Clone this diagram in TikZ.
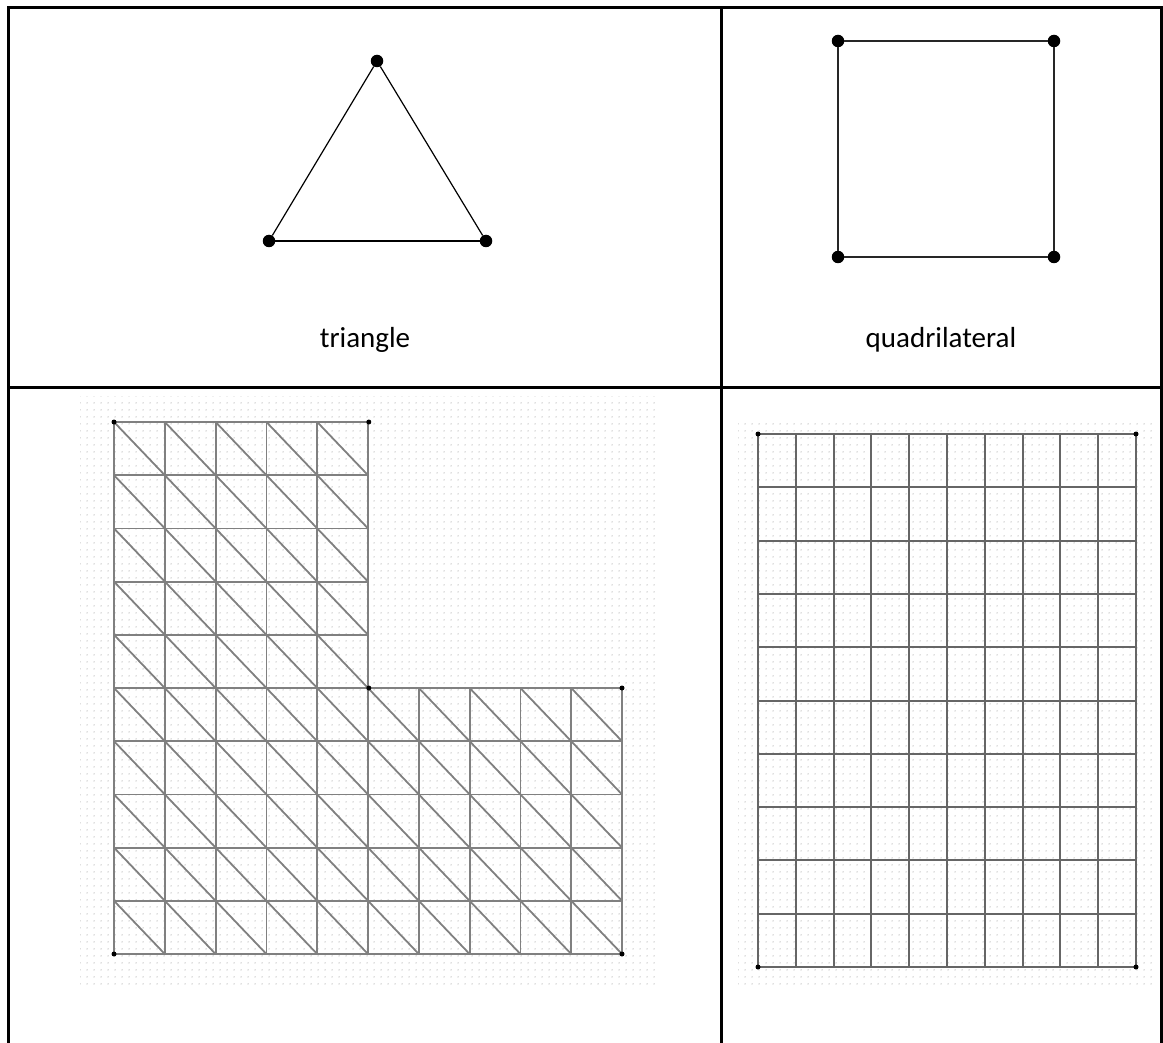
\documentclass[tikz,border=0pt]{standalone}
\usepackage{fontspec}
\setmainfont{Carlito}
\usetikzlibrary{patterns.meta}

\tikzdeclarepattern{
  name=meshdots,
  type=uncolored,
  bounding box={(0pt,0pt) and (7pt,7pt)},
  tile size={(7pt,7pt)},
  code={\fill (3.5pt,3.5pt) circle (0.8pt);}
}

\tikzset{
  vertex/.style={circle,fill=black,inner sep=0pt,minimum size=12.5pt},
  corner/.style={circle,fill=black,inner sep=0pt,minimum size=5pt},
  cellline/.style={line width=3pt},
  meshline/.style={black!50,line width=1.8pt},
  meshbg/.style={pattern={meshdots},pattern color=black!25},
  caption/.style={font=\fontsize{29}{34}\selectfont,anchor=base}
}

\begin{document}
\begin{tikzpicture}[x=1pt,y=-1pt]
  \useasboundingbox (0,0) rectangle (1163,1043);

  % table
  \coordinate (TL) at (8.5,7.5);
  \coordinate (TR) at (1161,7.5);
  \coordinate (BL) at (8.5,1043);
  \coordinate (BR) at (1161,1043);
  \coordinate (ML) at (8.5,387);
  \coordinate (MR) at (1161,387);
  \coordinate (MT) at (721.7,7.5);
  \coordinate (MB) at (721.7,1043);
  \draw[cellline] (BL) -- (TL) -- (TR) -- (BR);
  \draw[cellline] (ML) -- (MR);
  \draw[cellline] (MT) -- (MB);

  % triangle
  \node[vertex] (T1) at (377,61) {};
  \node[vertex] (T2) at (269,241) {};
  \node[vertex] (T3) at (486,241) {};
  \draw[line width=1.2pt] (T1) -- (T2);
  \draw[line width=1.2pt] (T2) -- (T3);
  \draw[line width=1.2pt] (T3) -- (T1);
  \node[caption] (trilabel) at (365,348) {triangle};

  % quadrilateral
  \node[vertex] (Q1) at (838,41) {};
  \node[vertex] (Q2) at (1054,41) {};
  \node[vertex] (Q3) at (1054,257) {};
  \node[vertex] (Q4) at (838,257) {};
  \draw[line width=2.2pt,black!85] (Q1) -- (Q2);
  \draw[line width=2.2pt,black!85] (Q2) -- (Q3);
  \draw[line width=2.2pt,black!85] (Q3) -- (Q4);
  \draw[line width=2.2pt,black!85] (Q4) -- (Q1);
  \node[caption] (quadlabel) at (941,348) {quadrilateral};

  % L-shaped triangle mesh
  \fill[meshbg] (80,396) rectangle (655,986);
  \foreach \i in {0,...,4}
    \draw[meshline] (114,{422+53.2*\i}) -- (368.8,{422+53.2*\i});
  \foreach \i in {5,...,10}
    \draw[meshline] (114,{422+53.2*\i}) -- (622,{422+53.2*\i});
  \foreach \j in {0,...,5}
    \draw[meshline] ({114+50.8*\j},422) -- ({114+50.8*\j},954);
  \foreach \j in {6,...,10}
    \draw[meshline] ({114+50.8*\j},688) -- ({114+50.8*\j},954);
  \foreach \i in {0,...,4}
    \foreach \j in {0,...,4}
      \draw[meshline] ({114+50.8*\j},{422+53.2*\i}) -- ({114+50.8*(\j+1)},{422+53.2*(\i+1)});
  \foreach \i in {5,...,9}
    \foreach \j in {0,...,9}
      \draw[meshline] ({114+50.8*\j},{422+53.2*\i}) -- ({114+50.8*(\j+1)},{422+53.2*(\i+1)});
  \node[corner] (L1) at (114,422) {};
  \node[corner] (L2) at (368.8,422) {};
  \node[corner] (L3) at (368.8,688) {};
  \node[corner] (L4) at (622,688) {};
  \node[corner] (L5) at (622,954) {};
  \node[corner] (L6) at (114,954) {};

  % quadrilateral mesh
  \fill[meshbg] (738,418) rectangle (1154,984);
  \foreach \i in {0,...,10}
    \draw[meshline,black!60,line width=2pt] (758,{434+53.3*\i}) -- (1136,{434+53.3*\i});
  \foreach \j in {0,...,10}
    \draw[meshline,black!60,line width=2pt] ({758+37.8*\j},434) -- ({758+37.8*\j},967);
  \node[corner] (S1) at (758,434) {};
  \node[corner] (S2) at (1136,434) {};
  \node[corner] (S3) at (1136,967) {};
  \node[corner] (S4) at (758,967) {};
\end{tikzpicture}
\end{document}
